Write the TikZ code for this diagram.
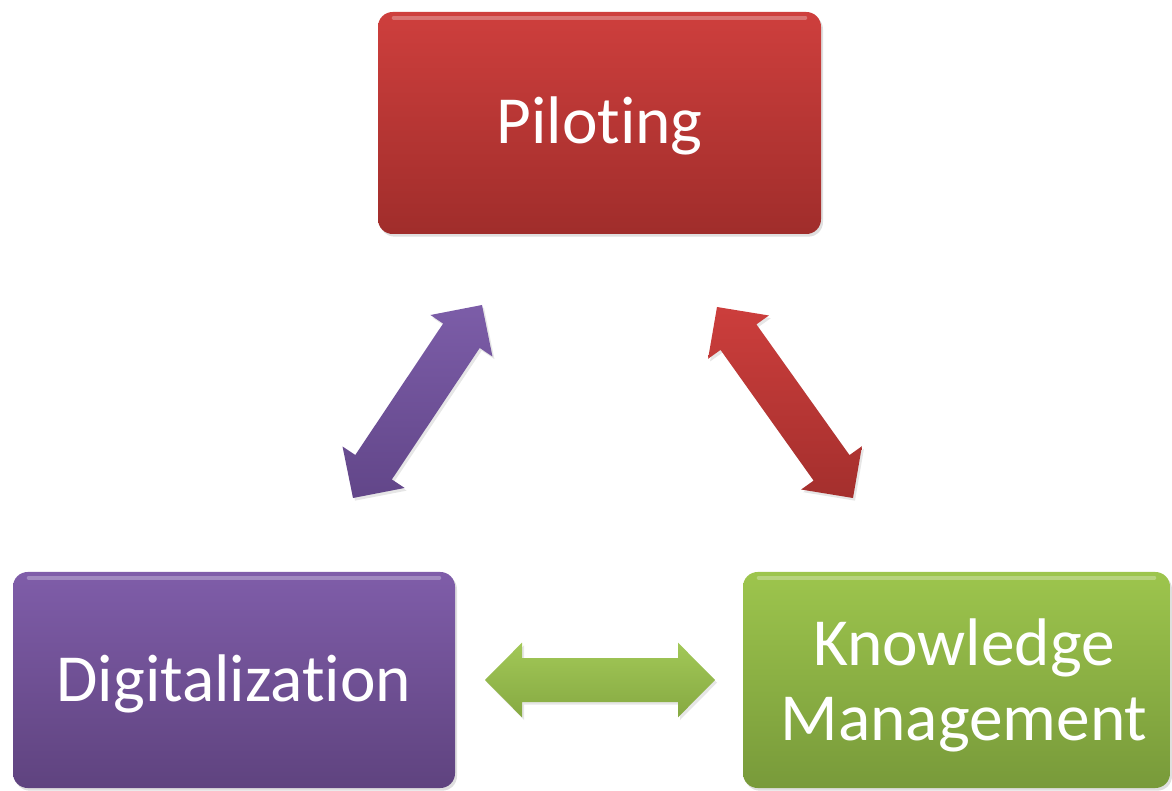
\documentclass[tikz,border=0pt]{standalone}
\usepackage{fontspec}
\setmainfont[Ligatures={NoCommon}]{Carlito}
\usetikzlibrary{calc,shadows}
\definecolor{redtop}{HTML}{CE3F3D}
\definecolor{redbot}{HTML}{A02D2B}
\definecolor{purtop}{HTML}{7F5DA9}
\definecolor{purbot}{HTML}{5F437F}
\definecolor{grntop}{HTML}{9DC54D}
\definecolor{grnbot}{HTML}{789A3A}
\definecolor{redarrA}{HTML}{CC3E3C}
\definecolor{redarrB}{HTML}{A42F2D}
\definecolor{purarrA}{HTML}{7C5DA8}
\definecolor{purarrB}{HTML}{624689}
\definecolor{grnarrA}{HTML}{A2C857}
\definecolor{grnarrB}{HTML}{86A942}
\def\arrHead{27.75pt}
\def\arrHW{28pt}
\def\arrSW{16.5pt}
\newcommand\dblarrow[3]{%
  \coordinate (#1h) at ($(#1)!\arrHead!(#2)$);
  \coordinate (#2h) at ($(#2)!\arrHead!(#1)$);
  \path[#3] (#1) -- ($(#1h)!\arrHW!90:(#2)$) -- ($(#1h)!\arrSW!90:(#2)$)
    -- ($(#2h)!\arrSW!-90:(#1)$) -- ($(#2h)!\arrHW!-90:(#1)$) -- (#2)
    -- ($(#2h)!\arrHW!90:(#1)$) -- ($(#2h)!\arrSW!90:(#1)$)
    -- ($(#1h)!\arrSW!-90:(#2)$) -- ($(#1h)!\arrHW!-90:(#2)$) -- cycle;
}
\tikzset{
  box/.style={rounded corners=11pt, inner sep=0pt,
    drop shadow={opacity=0.25, shadow xshift=1.5pt, shadow yshift=-2pt}},
  boxtext/.style={inner sep=0pt, text=white, align=center,
    font=\fontsize{50.5}{56.25}\selectfont},
  redbox/.style={box, top color=redtop, bottom color=redbot},
  purbox/.style={box, top color=purtop, bottom color=purbot},
  grnbox/.style={box, top color=grntop, bottom color=grnbot},
  arrowbody/.style={drop shadow={opacity=0.2, shadow xshift=1.5pt, shadow yshift=-2pt}},
  redarrow/.style={arrowbody, top color=redarrA, bottom color=redarrB},
  purarrow/.style={arrowbody, top color=purarrA, bottom color=purarrB},
  grnarrow/.style={arrowbody, top color=grnarrA, bottom color=grnarrB},
  gloss/.style={line width=3pt, line cap=round, white, opacity=0.28}
}
\begin{document}
\begin{tikzpicture}[x=0.75pt,y=-0.75pt]
\useasboundingbox (0,0) rectangle (1172,791);
% boxes
\node[redbox, minimum width=332.25pt, minimum height=166.5pt] (pil) at (599.5,123) {};
\node[purbox, minimum width=331.5pt, minimum height=162pt] (dig) at (234,680) {};
\node[grnbox, minimum width=320.25pt, minimum height=162pt] (km) at (956.5,680) {};
% glossy top highlights
\draw[gloss] ($(pil.north west)+(16,6)$) -- ($(pil.north east)+(-16,6)$);
\draw[gloss] ($(dig.north west)+(16,6)$) -- ($(dig.north east)+(-16,6)$);
\draw[gloss] ($(km.north west)+(16,6)$) -- ($(km.north east)+(-16,6)$);
% texts
\node[boxtext] (piltext) at ($(pil.center)+(0,2.5)$) {Piloting};
\node[boxtext] (digtext) at ($(dig.center)+(0,4)$) {Digitalization};
\node[boxtext] (kmtext) at ($(km.center)+(7.5,5.5)$) {Knowledge\\Management};
% arrows
\coordinate (pa) at (353,498);
\coordinate (pb) at (482,305);
\coordinate (ra) at (717,307);
\coordinate (rb) at (853,498);
\coordinate (ga) at (485,680);
\coordinate (gb) at (715,680);
\dblarrow{pa}{pb}{purarrow}
\dblarrow{ra}{rb}{redarrow}
\dblarrow{ga}{gb}{grnarrow}
\end{tikzpicture}
\end{document}
